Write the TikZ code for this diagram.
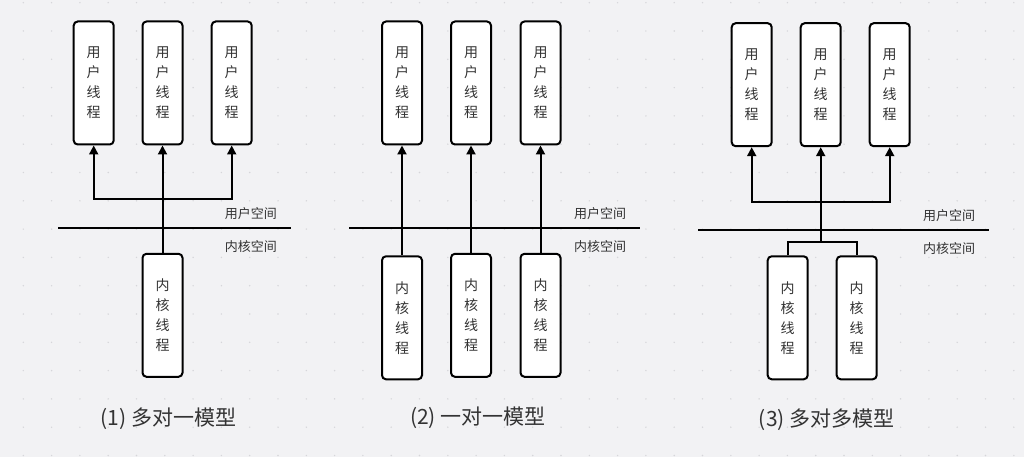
\documentclass[tikz,border=0pt]{standalone}
\usepackage{fontspec}
\setmainfont{Noto Sans CJK SC}
\usetikzlibrary{arrows.meta}
\definecolor{bgc}{HTML}{F2F2F4}
\definecolor{dotc}{HTML}{D6D6DA}
\definecolor{txt}{HTML}{333333}
\tikzset{
  thread/.style={draw=black, line width=2pt, rounded corners=4pt, fill=white,
    minimum width=40pt, minimum height=123pt, inner sep=0pt, align=center,
    text=txt, font=\fontsize{14pt}{20pt}\selectfont},
  conn/.style={line width=2pt, draw=black},
  arr/.style={conn, -{Triangle[width=9pt,length=9pt]}},
  divider/.style={line width=2pt, draw=black},
  space/.style={text=txt, font=\fontsize{13pt}{15pt}\selectfont, inner sep=0pt},
  caption/.style={text=txt, font=\fontsize{21pt}{24pt}\selectfont, inner sep=0pt}
}
\begin{document}
\begin{tikzpicture}[x=1pt,y=-1pt]
\useasboundingbox (0,0) rectangle (1024,457);
\fill[bgc] (0,0) rectangle (1024,457);
\foreach \i in {0,...,36}{
  \foreach \j in {0,...,16}{
    \fill[dotc] (23.3+28.3*\i, 2.7+28.3*\j) circle (0.8);
  }
}
% ---------- Panel 1: many-to-one ----------
\node[thread] (a1) at (93.7,83) {用\\户\\线\\程};
\node[thread] (a2) at (162.5,83) {用\\户\\线\\程};
\node[thread] (a3) at (231.7,83) {用\\户\\线\\程};
\node[thread] (ak) at (162.5,315.3) {内\\核\\线\\程};
\coordinate (aj) at (162.5,199);
\coordinate (adl) at (58.3,228.3);
\coordinate (adr) at (290.7,228.3);
\draw[divider] (adl) -- (adr);
\draw[arr] (ak.north) -- (a2.south);
\draw[arr] (aj) -| (a1.south);
\draw[arr] (aj) -| (a3.south);
\node[space] (aus) at (250.8,213.3) {用户空间};
\node[space] (aks) at (250.8,246.7) {内核空间};
\node[caption] (acap) at (168.3,418.3) {(1) 多对一模型};
% ---------- Panel 2: one-to-one ----------
\node[thread] (b1) at (402,83) {用\\户\\线\\程};
\node[thread] (b2) at (471,83) {用\\户\\线\\程};
\node[thread] (b3) at (540.5,83) {用\\户\\线\\程};
\node[thread] (bk1) at (402,317.8) {内\\核\\线\\程};
\node[thread] (bk2) at (471,315.3) {内\\核\\线\\程};
\node[thread] (bk3) at (540.5,315.3) {内\\核\\线\\程};
\coordinate (bdl) at (349.3,228.3);
\coordinate (bdr) at (640,228.3);
\draw[divider] (bdl) -- (bdr);
\draw[arr] (bk1.north) -- (b1.south);
\draw[arr] (bk2.north) -- (b2.south);
\draw[arr] (bk3.north) -- (b3.south);
\node[space] (bus) at (600,213.3) {用户空间};
\node[space] (bks) at (600,246.7) {内核空间};
\node[caption] (bcap) at (478,418) {(2) 一对一模型};
% ---------- Panel 3: many-to-many ----------
\node[thread] (c1) at (751.7,84.7) {用\\户\\线\\程};
\node[thread] (c2) at (820.7,84.7) {用\\户\\线\\程};
\node[thread] (c3) at (889.7,84.7) {用\\户\\线\\程};
\node[thread] (ck1) at (787.7,317.8) {内\\核\\线\\程};
\node[thread] (ck2) at (856.7,317.8) {内\\核\\线\\程};
\coordinate (cj) at (820.7,202.3);
\coordinate (cb) at (820.7,242.3);
\coordinate (cdl) at (698.3,230);
\coordinate (cdr) at (989,230);
\draw[divider] (cdl) -- (cdr);
\draw[conn] (ck1.north) |- (cb) -| (ck2.north);
\draw[arr] (cb) -- (c2.south);
\draw[arr] (cj) -| (c1.south);
\draw[arr] (cj) -| (c3.south);
\node[space] (cus) at (949,216) {用户空间};
\node[space] (cks) at (949,248.3) {内核空间};
\node[caption] (ccap) at (826.7,420) {(3) 多对多模型};
\end{tikzpicture}
\end{document}
